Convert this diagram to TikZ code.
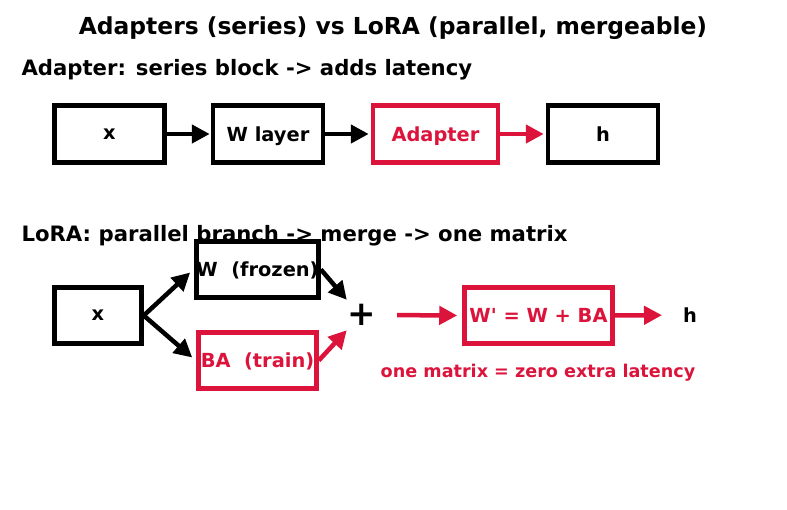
\documentclass[tikz,border=0pt]{standalone}
\usepackage{fontspec}
\setmainfont{DejaVu Sans}
\usetikzlibrary{arrows.meta}
\definecolor{loracol}{RGB}{220,20,60}

\begin{document}
\begin{tikzpicture}[x=1pt,y=-1pt,
    box/.style={draw,line width=4.5pt,minimum height=57pt,inner sep=0pt,text depth=0pt,font=\bfseries\fontsize{19.4}{22}\selectfont},
    redbox/.style={box,draw=loracol,text=loracol},
    arr/.style={line width=4.5pt,-{Triangle[length=18pt,width=18pt]}},
    redarr/.style={arr,draw=loracol,fill=loracol},
    head/.style={anchor=west,font=\bfseries\fontsize{21.2}{24}\selectfont}]
  \useasboundingbox[fill=white] (0,0) rectangle (787,510);
  \node[font=\bfseries\fontsize{23.4}{26}\selectfont] (title) at (393,28) {Adapters (series) vs LoRA (parallel, mergeable)};
  \node[head] (sub1) at (18,70) {Adapter: series block -> adds latency};
  \node[box,minimum width=110pt] (x1) at (109.5,134) {x};
  \node[box,minimum width=110pt] (wl) at (268,134) {W layer};
  \node[redbox,minimum width=125pt] (ad) at (435.5,134) {Adapter};
  \node[box,minimum width=110pt] (h1) at (603,134) {h};
  \draw[arr,shorten >=1pt] (x1) -- (wl);
  \draw[arr,shorten >=2pt] (wl) -- (ad);
  \draw[redarr,shorten >=2pt] (ad) -- (h1);
  \node[head] (sub2) at (18,236) {LoRA: parallel branch -> merge -> one matrix};
  \node[box,minimum width=87pt,minimum height=56pt] (x2) at (98,315.5) {x};
  \node[box,minimum width=118pt,minimum height=56pt] (wf) at (257.5,269.5) {W\ \ (frozen)};
  \node[redbox,minimum width=118pt,minimum height=56pt] (ba) at (257.5,360.5) {BA\ \ (train)};
  \node[font=\bfseries\fontsize{34}{34}\selectfont,minimum size=30pt,inner sep=0pt] (plus) at (362,315) {+};
  \node[redbox,minimum width=148pt,minimum height=56pt] (mg) at (538.5,315.5) {W\textquotesingle{} = W + BA};
  \node[font=\bfseries\fontsize{19.4}{22}\selectfont,text depth=0pt] (h2) at (690,315) {h};
  \node[font=\bfseries\fontsize{17.6}{20}\selectfont,text=loracol,text depth=0pt] (note) at (538,371) {one matrix = zero extra latency};
  \draw[arr] (x2.east) -- ([xshift=-4pt,yshift=-3pt]wf.west);
  \draw[arr] (x2.east) -- ([xshift=-4pt,yshift=3pt]ba.west);
  \draw[arr] (wf.east) -- (plus.north west);
  \draw[redarr] (ba.east) -- (plus.south west);
  \draw[redarr,shorten <=20pt,shorten >=5pt] (plus.east) -- (mg.west);
  \draw[redarr,shorten >=28pt] (mg.east) -- (h2.center);
\end{tikzpicture}
\end{document}
